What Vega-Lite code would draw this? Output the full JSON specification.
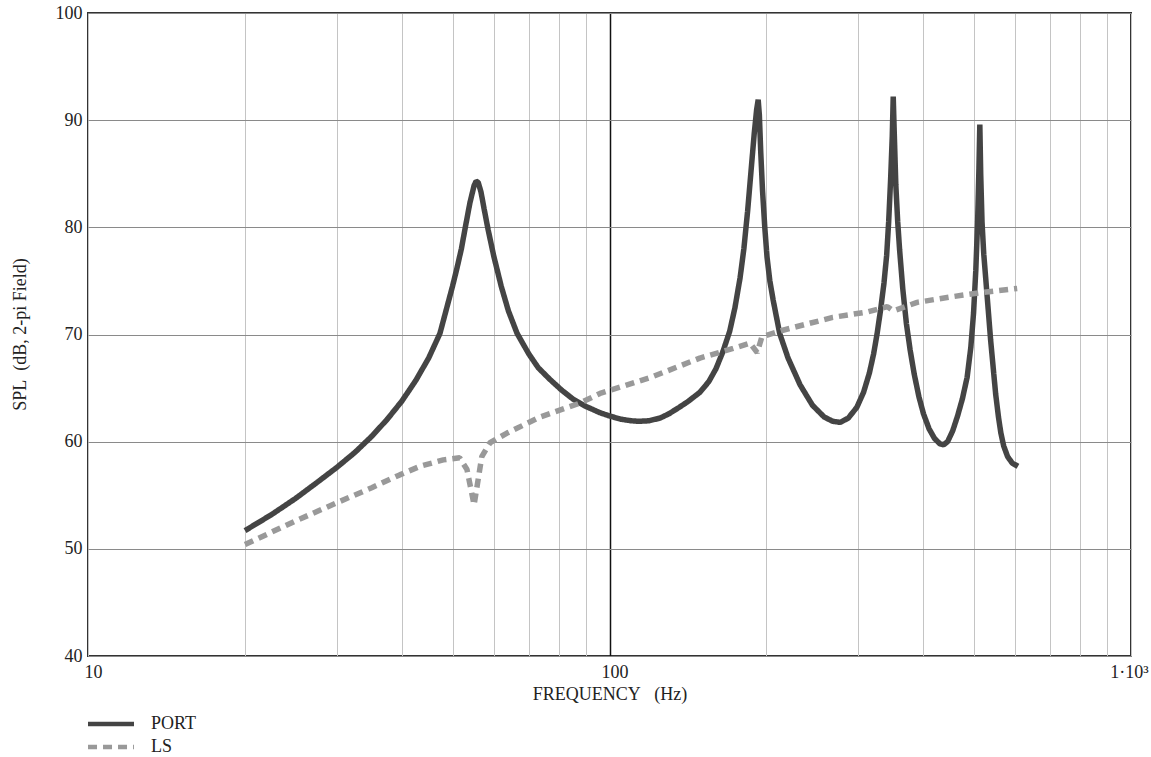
{
  "$schema": "https://vega.github.io/schema/vega-lite/v6.json",
  "width": 1043,
  "height": 643,
  "autosize": {"type": "none"},
  "padding": {"left": 88, "top": 13, "right": 20, "bottom": 101},
  "background": "white",
  "config": {
    "view": {"stroke": "#333", "strokeWidth": 2},
    "font": "Liberation Serif",
    "axis": {"labelFont": "Liberation Serif", "titleFont": "Liberation Serif", "labelColor": "#222", "titleColor": "#222", "titleFontWeight": "normal", "ticks": false, "domain": false},
    "legend": {"labelFont": "Liberation Serif", "labelColor": "#222"}
  },
  "data": {"values": [
    {"f": 20, "db": 51.7, "s": "PORT"},
    {"f": 22.5, "db": 53.2, "s": "PORT"},
    {"f": 25, "db": 54.7, "s": "PORT"},
    {"f": 27.5, "db": 56.2, "s": "PORT"},
    {"f": 30, "db": 57.6, "s": "PORT"},
    {"f": 32.5, "db": 59.0, "s": "PORT"},
    {"f": 35, "db": 60.5, "s": "PORT"},
    {"f": 37.5, "db": 62.1, "s": "PORT"},
    {"f": 40, "db": 63.8, "s": "PORT"},
    {"f": 42.5, "db": 65.7, "s": "PORT"},
    {"f": 45, "db": 67.8, "s": "PORT"},
    {"f": 47.3, "db": 70.1, "s": "PORT"},
    {"f": 50, "db": 74.5, "s": "PORT"},
    {"f": 51, "db": 76.2, "s": "PORT"},
    {"f": 52, "db": 78.0, "s": "PORT"},
    {"f": 53, "db": 80.2, "s": "PORT"},
    {"f": 54, "db": 82.3, "s": "PORT"},
    {"f": 55, "db": 83.9, "s": "PORT"},
    {"f": 55.5, "db": 84.3, "s": "PORT"},
    {"f": 56, "db": 84.2, "s": "PORT"},
    {"f": 56.7, "db": 83.3, "s": "PORT"},
    {"f": 57.5, "db": 81.7, "s": "PORT"},
    {"f": 58.5, "db": 79.8, "s": "PORT"},
    {"f": 60, "db": 77.3, "s": "PORT"},
    {"f": 62, "db": 74.5, "s": "PORT"},
    {"f": 64, "db": 72.2, "s": "PORT"},
    {"f": 66.5, "db": 70.1, "s": "PORT"},
    {"f": 70, "db": 68.2, "s": "PORT"},
    {"f": 73, "db": 66.9, "s": "PORT"},
    {"f": 76.9, "db": 65.8, "s": "PORT"},
    {"f": 81, "db": 64.8, "s": "PORT"},
    {"f": 85, "db": 64.0, "s": "PORT"},
    {"f": 90, "db": 63.3, "s": "PORT"},
    {"f": 95.9, "db": 62.7, "s": "PORT"},
    {"f": 100, "db": 62.4, "s": "PORT"},
    {"f": 105, "db": 62.1, "s": "PORT"},
    {"f": 110, "db": 61.95, "s": "PORT"},
    {"f": 114, "db": 61.9, "s": "PORT"},
    {"f": 119, "db": 61.95, "s": "PORT"},
    {"f": 125, "db": 62.2, "s": "PORT"},
    {"f": 130, "db": 62.6, "s": "PORT"},
    {"f": 135, "db": 63.1, "s": "PORT"},
    {"f": 141, "db": 63.7, "s": "PORT"},
    {"f": 149, "db": 64.6, "s": "PORT"},
    {"f": 155, "db": 65.6, "s": "PORT"},
    {"f": 160, "db": 66.8, "s": "PORT"},
    {"f": 165, "db": 68.4, "s": "PORT"},
    {"f": 170, "db": 70.3, "s": "PORT"},
    {"f": 174, "db": 72.5, "s": "PORT"},
    {"f": 178, "db": 75.3, "s": "PORT"},
    {"f": 181, "db": 78.0, "s": "PORT"},
    {"f": 184, "db": 81.5, "s": "PORT"},
    {"f": 187, "db": 85.5, "s": "PORT"},
    {"f": 189.5, "db": 88.8, "s": "PORT"},
    {"f": 191.5, "db": 91.0, "s": "PORT"},
    {"f": 192.8, "db": 91.9, "s": "PORT"},
    {"f": 193.8, "db": 90.5, "s": "PORT"},
    {"f": 195, "db": 87.0, "s": "PORT"},
    {"f": 196.5, "db": 83.5, "s": "PORT"},
    {"f": 198.5, "db": 80.0, "s": "PORT"},
    {"f": 200.5, "db": 77.2, "s": "PORT"},
    {"f": 203, "db": 75.0, "s": "PORT"},
    {"f": 206, "db": 73.2, "s": "PORT"},
    {"f": 212, "db": 70.1, "s": "PORT"},
    {"f": 220, "db": 67.8, "s": "PORT"},
    {"f": 232, "db": 65.3, "s": "PORT"},
    {"f": 245, "db": 63.4, "s": "PORT"},
    {"f": 258, "db": 62.3, "s": "PORT"},
    {"f": 268, "db": 61.9, "s": "PORT"},
    {"f": 277, "db": 61.8, "s": "PORT"},
    {"f": 287, "db": 62.2, "s": "PORT"},
    {"f": 298, "db": 63.2, "s": "PORT"},
    {"f": 307, "db": 64.6, "s": "PORT"},
    {"f": 315, "db": 66.4, "s": "PORT"},
    {"f": 321, "db": 68.2, "s": "PORT"},
    {"f": 326, "db": 70.1, "s": "PORT"},
    {"f": 331, "db": 72.3, "s": "PORT"},
    {"f": 336, "db": 74.8, "s": "PORT"},
    {"f": 340, "db": 77.4, "s": "PORT"},
    {"f": 343, "db": 80.5, "s": "PORT"},
    {"f": 346, "db": 84.5, "s": "PORT"},
    {"f": 348.5, "db": 88.5, "s": "PORT"},
    {"f": 350, "db": 92.2, "s": "PORT"},
    {"f": 351.5, "db": 89.0, "s": "PORT"},
    {"f": 354, "db": 84.0, "s": "PORT"},
    {"f": 357, "db": 80.5, "s": "PORT"},
    {"f": 360, "db": 77.9, "s": "PORT"},
    {"f": 365, "db": 74.3, "s": "PORT"},
    {"f": 371, "db": 71.0, "s": "PORT"},
    {"f": 377, "db": 68.6, "s": "PORT"},
    {"f": 384, "db": 66.3, "s": "PORT"},
    {"f": 392, "db": 64.2, "s": "PORT"},
    {"f": 400, "db": 62.6, "s": "PORT"},
    {"f": 410, "db": 61.2, "s": "PORT"},
    {"f": 420, "db": 60.3, "s": "PORT"},
    {"f": 430, "db": 59.8, "s": "PORT"},
    {"f": 437, "db": 59.7, "s": "PORT"},
    {"f": 445, "db": 60.0, "s": "PORT"},
    {"f": 455, "db": 61.0, "s": "PORT"},
    {"f": 465, "db": 62.4, "s": "PORT"},
    {"f": 475, "db": 64.0, "s": "PORT"},
    {"f": 485, "db": 66.0, "s": "PORT"},
    {"f": 493, "db": 68.8, "s": "PORT"},
    {"f": 499, "db": 72.0, "s": "PORT"},
    {"f": 504, "db": 76.0, "s": "PORT"},
    {"f": 508, "db": 80.5, "s": "PORT"},
    {"f": 511, "db": 85.5, "s": "PORT"},
    {"f": 513, "db": 89.6, "s": "PORT"},
    {"f": 515, "db": 85.0, "s": "PORT"},
    {"f": 518, "db": 80.5, "s": "PORT"},
    {"f": 522, "db": 77.5, "s": "PORT"},
    {"f": 527, "db": 75.0, "s": "PORT"},
    {"f": 532, "db": 72.5, "s": "PORT"},
    {"f": 538, "db": 69.5, "s": "PORT"},
    {"f": 544, "db": 67.0, "s": "PORT"},
    {"f": 550, "db": 64.5, "s": "PORT"},
    {"f": 557, "db": 62.3, "s": "PORT"},
    {"f": 563, "db": 60.8, "s": "PORT"},
    {"f": 570, "db": 59.6, "s": "PORT"},
    {"f": 580, "db": 58.6, "s": "PORT"},
    {"f": 592, "db": 58.0, "s": "PORT"},
    {"f": 607, "db": 57.7, "s": "PORT"},
    {"f": 20, "db": 50.4, "s": "LS"},
    {"f": 25, "db": 52.6, "s": "LS"},
    {"f": 30, "db": 54.3, "s": "LS"},
    {"f": 35, "db": 55.7, "s": "LS"},
    {"f": 39.6, "db": 56.9, "s": "LS"},
    {"f": 43.3, "db": 57.7, "s": "LS"},
    {"f": 48, "db": 58.3, "s": "LS"},
    {"f": 51.6, "db": 58.5, "s": "LS"},
    {"f": 53.3, "db": 57.4, "s": "LS"},
    {"f": 55.0, "db": 54.1, "s": "LS"},
    {"f": 56.9, "db": 58.6, "s": "LS"},
    {"f": 59, "db": 59.9, "s": "LS"},
    {"f": 63.6, "db": 60.8, "s": "LS"},
    {"f": 73.6, "db": 62.3, "s": "LS"},
    {"f": 87.8, "db": 63.6, "s": "LS"},
    {"f": 95.9, "db": 64.5, "s": "LS"},
    {"f": 120, "db": 66.0, "s": "LS"},
    {"f": 149, "db": 67.8, "s": "LS"},
    {"f": 172.6, "db": 68.7, "s": "LS"},
    {"f": 186, "db": 69.2, "s": "LS"},
    {"f": 192, "db": 68.3, "s": "LS"},
    {"f": 196, "db": 69.8, "s": "LS"},
    {"f": 215, "db": 70.4, "s": "LS"},
    {"f": 268, "db": 71.6, "s": "LS"},
    {"f": 312, "db": 72.1, "s": "LS"},
    {"f": 341, "db": 72.6, "s": "LS"},
    {"f": 350, "db": 72.2, "s": "LS"},
    {"f": 389, "db": 73.0, "s": "LS"},
    {"f": 450, "db": 73.5, "s": "LS"},
    {"f": 513, "db": 73.9, "s": "LS"},
    {"f": 605, "db": 74.3, "s": "LS"}
  ]},
  "mark": {"type": "line", "strokeWidth": 5.5, "strokeCap": "butt", "strokeJoin": "bevel", "clip": true},
  "encoding": {
    "x": {
      "field": "f", "type": "quantitative",
      "scale": {"type": "log", "domain": [10, 1000], "nice": false},
      "axis": {
        "title": "FREQUENCY\u00a0\u00a0\u00a0(Hz)",
        "titleFontSize": 18,
        "titlePadding": 4,
        "values": [10, 20, 30, 40, 50, 60, 70, 80, 90, 100, 200, 300, 400, 500, 600, 700, 800, 900, 1000],
        "labelExpr": "datum.value == 10 ? '10' : datum.value == 100 ? '100' : datum.value == 1000 ? '1·10³' : ''",
        "labelFontSize": 18,
        "labelPadding": 7,
        "labelOffset": {"condition": {"test": "datum.value == 1000", "value": -2}, "value": 5},
        "labelFlush": false,
        "labelOverlap": false,
        "gridColor": {"condition": {"test": "datum.value == 100", "value": "#111"}, "value": "#c4c4c4"},
        "gridWidth": {"condition": {"test": "datum.value == 100", "value": 1.5}, "value": 1}
      }
    },
    "y": {
      "field": "db", "type": "quantitative",
      "scale": {"domain": [40, 100], "nice": false, "zero": false},
      "axis": {
        "title": "SPL\u00a0\u00a0(dB, 2-pi Field)",
        "titleFontSize": 18,
        "titleX": -68,
        "titleY": 321,
        "titleBaseline": "middle",
        "values": [40, 50, 60, 70, 80, 90, 100],
        "labelFontSize": 18,
        "labelPadding": 6,
        "labelFlush": false,
        "gridColor": "#8a8a8a",
        "gridWidth": 1
      }
    },
    "color": {
      "field": "s", "type": "nominal",
      "scale": {"domain": ["PORT", "LS"], "range": ["#444444", "#999999"]},
      "legend": {
        "title": null,
        "orient": "none",
        "legendX": 14,
        "legendY": 702,
        "padding": 0,
        "symbolType": "M-4,0H4",
        "symbolSize": 132,
        "symbolStrokeWidth": 4.5,
        "labelFontSize": 18,
        "labelOffset": 31,
        "rowPadding": 5
      }
    },
    "strokeDash": {
      "field": "s", "type": "nominal",
      "scale": {"domain": ["PORT", "LS"], "range": [[1, 0], [9, 6]]},
      "legend": null
    }
  }
}
